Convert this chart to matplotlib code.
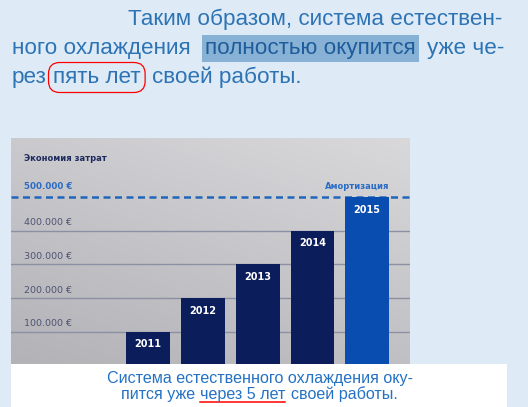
import numpy as np
import matplotlib
matplotlib.use("Agg")
import matplotlib.pyplot as plt
from matplotlib.patches import Rectangle
from matplotlib.lines import Line2D

# данные графика
years = ["2011", "2012", "2013", "2014", "2015"]
savings = [100000, 200000, 300000, 400000, 500000]
grid_ticks = [100000, 200000, 300000, 400000]
tick_labels = ["100.000 €", "200.000 €", "300.000 €", "400.000 €"]
payback = 500000
payback_label = "500.000 €"

plt.rcParams["font.family"] = ["Liberation Sans", "DejaVu Sans"]

W, H = 528, 407
fig = plt.figure(figsize=(W / 100, H / 100), dpi=100)
fig.patch.set_facecolor("#deebf7")


def fx(px):
    return px / W


def fy(py):
    return 1 - py / H


# --- текст сверху ---
txt_color = "#2e74b5"
fs_top = 16.2
fig.text(fx(128), fy(25), "Таким образом, система естествен-", fontsize=fs_top,
         color=txt_color, va="baseline")
fig.text(fx(12), fy(54), "ного охлаждения", fontsize=fs_top, color=txt_color, va="baseline")
fig.text(fx(205), fy(54), "полностью окупится", fontsize=fs_top, color="#1f5c9c",
         va="baseline",
         bbox=dict(boxstyle="square,pad=0.15", fc="#87b1d5", ec="none"))
fig.text(fx(427), fy(54), "уже че-", fontsize=fs_top, color=txt_color, va="baseline")
fig.text(fx(12), fy(83), "рез", fontsize=fs_top, color=txt_color, va="baseline")
fig.text(fx(53), fy(83), "пять лет", fontsize=fs_top, color=txt_color, va="baseline",
         bbox=dict(boxstyle="round,pad=0.2,rounding_size=0.5", fc="none", ec="red", lw=0.9))
fig.text(fx(152), fy(83), "своей работы.", fontsize=fs_top, color=txt_color, va="baseline")

# --- график ---
ax = fig.add_axes([fx(11), fy(364), 399 / W, 226 / H])
x = np.arange(len(years))
xlim = (-2.5, 4.78)
ylim = (5000, 675000)

# серый фон фотографии
gy, gx = np.mgrid[0:1:120j, 0:1:120j]
t = np.clip(0.6 * gy + 0.35 * (1 - gx), 0, 1)
light = np.array([0.85, 0.85, 0.86])
dark = np.array([0.69, 0.69, 0.71])
img = light * (1 - t[..., None]) + dark * t[..., None]
ax.imshow(img, extent=[xlim[0], xlim[1], ylim[0], ylim[1]], aspect="auto",
          origin="upper", zorder=0)

for v in grid_ticks:
    ax.axhline(v, color="#8c90a3", lw=1, zorder=1)
ax.axhline(payback, color="#2266bb", lw=1.8, ls=(0, (2.8, 1.8)), zorder=2)

colors = ["#0b1d5b"] * (len(years) - 1) + ["#0a4db0"]
ax.bar(x, savings, width=0.8, color=colors, zorder=3)

ytr = ax.get_yaxis_transform()
for v, lab in zip(grid_ticks, tick_labels):
    ax.annotate(lab, xy=(0.033, v), xycoords=ytr, xytext=(0, 2.5),
                textcoords="offset points", ha="left", va="bottom",
                fontsize=6.8, color="#4d5273", family="DejaVu Sans")
ax.annotate(payback_label, xy=(0.033, payback), xycoords=ytr, xytext=(0, 4),
            textcoords="offset points", ha="left", va="bottom",
            fontsize=6.3, color="#2a6cc4", family="DejaVu Sans", fontweight="bold")
ax.annotate("Амортизация", xy=(x[-1] + 0.4, payback), xytext=(0, 4),
            textcoords="offset points", ha="right", va="bottom",
            fontsize=6, color="#2a6cc4", family="DejaVu Sans", fontweight="bold")
ax.text(0.033, 0.911, "Экономия затрат", transform=ax.transAxes, ha="left",
        va="center", fontsize=6, color="#1d2b5e", family="DejaVu Sans", fontweight="bold")

for xi, v, yr in zip(x, savings, years):
    ax.annotate(yr, xy=(xi, v), xytext=(0, -9), textcoords="offset points",
                ha="center", va="center", color="white", fontsize=7,
                fontweight="bold", family="DejaVu Sans", zorder=4)

ax.set_xlim(*xlim)
ax.set_ylim(*ylim)
ax.axis("off")

# --- подпись ---
fig.patches.append(Rectangle((fx(11), 0), (507 - 11) / W, (407 - 364) / H,
                             transform=fig.transFigure, fc="white", ec="none"))
cap_color = "#2572c4"
fs_cap = 11.6
fig.text(fx(107), fy(383), "Система естественного охлаждения оку-", fontsize=fs_cap,
         color=cap_color, va="baseline")
renderer = fig.canvas.get_renderer()
fig.text(fx(121), fy(399), "пится уже", fontsize=fs_cap, color=cap_color, va="baseline")
t2 = fig.text(fx(200), fy(399), "через 5 лет", fontsize=fs_cap, color=cap_color, va="baseline")
bb = t2.get_window_extent(renderer)
fig.add_artist(Line2D([bb.x0 / W, bb.x1 / W], [fy(402), fy(402)], color="red", lw=1.1))
fig.text(fx(291), fy(399), "своей работы.", fontsize=fs_cap, color=cap_color,
         va="baseline")

fig.savefig("out.png", dpi=100, facecolor=fig.get_facecolor())
